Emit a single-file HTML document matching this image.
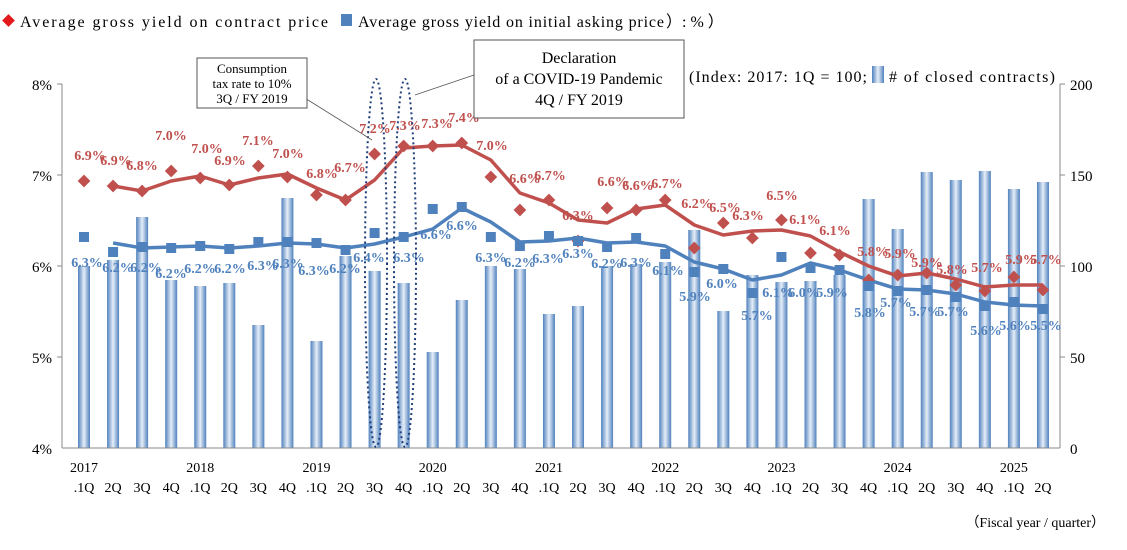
<!DOCTYPE html><html><head><meta charset="utf-8"><style>body{margin:0;background:#fff}svg{display:block;font-family:"Liberation Serif",serif}</style></head><body>
<svg id="s" width="1127" height="550" xmlns="http://www.w3.org/2000/svg">
<defs><linearGradient id="g" x1="0" x2="1"><stop offset="0" stop-color="#4f81bd"/><stop offset="0.5" stop-color="#e6eef8"/><stop offset="1" stop-color="#4f81bd"/></linearGradient></defs>
<g id="bars"></g>
<line x1="62" y1="84" x2="62" y2="448" stroke="#888"/><line x1="1060" y1="84" x2="1060" y2="448" stroke="#888"/>
<line x1="62" y1="448" x2="1060" y2="448" stroke="#888"/>
<g stroke="#888"><line x1="57" y1="84" x2="62" y2="84"/><line x1="57" y1="175" x2="62" y2="175"/><line x1="57" y1="266" x2="62" y2="266"/><line x1="57" y1="357" x2="62" y2="357"/><line x1="1060" y1="84" x2="1065" y2="84"/><line x1="1060" y1="175" x2="1065" y2="175"/><line x1="1060" y1="266" x2="1065" y2="266"/><line x1="1060" y1="357" x2="1065" y2="357"/></g>
<g font-size="15" text-anchor="end"><text x="52" y="90">8%</text><text x="52" y="181">7%</text><text x="52" y="272">6%</text><text x="52" y="363">5%</text><text x="52" y="454">4%</text></g>
<g font-size="15"><text x="1070" y="90">200</text><text x="1070" y="181">150</text><text x="1070" y="272">100</text><text x="1070" y="363">50</text><text x="1070" y="454">0</text></g>
<g id="lines"></g>
<g fill="none" stroke="#1f3d7a" stroke-width="2" stroke-dasharray="2,3"><ellipse cx="376" cy="263" rx="11" ry="184"/><ellipse cx="405" cy="263" rx="11" ry="184"/></g>
<g stroke="#555" stroke-width="0.8"><line x1="300" y1="95" x2="372" y2="140"/><line x1="474" y1="75" x2="415" y2="95"/></g>
<rect x="197" y="58" width="110" height="50" fill="#fff" stroke="#555"/>
<g font-size="13" text-anchor="middle"><text x="252" y="73">Consumption</text><text x="252" y="88">tax rate to 10%</text><text x="252" y="103">3Q / FY 2019</text></g>
<rect x="474" y="40" width="210" height="78" fill="#fff" stroke="#555"/>
<g font-size="16" text-anchor="middle"><text x="579" y="63">Declaration</text><text x="579" y="84">of a COVID-19 Pandemic</text><text x="579" y="105">4Q / FY 2019</text></g>
<text x="689" y="82" font-size="16" textLength="178" lengthAdjust="spacing">(Index: 2017: 1Q = 100;</text>
<rect x="872" y="66" width="12" height="17" fill="url(#g)"/>
<text x="889" y="82" font-size="16" textLength="166" lengthAdjust="spacing"># of closed contracts)</text>
<rect x="4" y="16" width="9" height="9" fill="#e31a1c" transform="rotate(45 8.5 20.5)"/>
<text x="20" y="27" font-size="16" textLength="308" lengthAdjust="spacing">Average gross yield on contract price</text>
<rect x="341" y="14" width="11" height="12" fill="#4f81bd"/>
<text x="358" y="27" font-size="16" textLength="306" lengthAdjust="spacing">Average gross yield on initial asking price</text>
<text x="666" y="27" font-size="16">）: % ）</text>
<g id="xl" font-size="14" text-anchor="middle"></g>
<text x="1105" y="527" font-size="14" text-anchor="end">（Fiscal year / quarter）</text>
</svg>
<script>
var X=i=>84+29.06*i;
var bars=[266,260,217,280,286,283,325,198,341,256,271,283,352,300,266,269,314,306,266,264,262,230,311,275,282,281,275,199,229,172,180,171,189,182];
var rd=[181,186,191,171,178,185,166,177,195,200,154,146,146,143,177,210,200,241,208,210,200,248,223,238,220,253,255,280,275,273,285,291,277,290];
var rl=[null,186,191,181,176,185,178,174,188,200,180,148,146,145,160,193,203,220,223,209,205,225,235,231,230,236,252,266,276,273,279,287,285,285];
var bs=[237,252,247,248,246,249,242,242,243,250,233,237,209,207,237,246,236,241,247,238,254,272,269,293,257,268,270,286,291,290,297,306,302,309];
var bl=[null,243,248,247,246,248,246,243,244,248,244,237,229,208,222,242,241,238,243,242,246,262,269,280,275,263,270,280,289,290,294,302,305,306];
var RL=[[90,160,"6.9"],[116,165,"6.9"],[142,170,"6.8"],[171,140,"7.0"],[207,153,"7.0"],[230,165,"6.9"],[258,145,"7.1"],[288,158,"7.0"],[322,178,"6.8"],[350,172,"6.7"],[375,133,"7.2"],[405,130,"7.3"],[437,128,"7.3"],[464,122,"7.4"],[492,150,"7.0"],[525,183,"6.6"],[550,180,"6.7"],[578,220,"6.3"],[613,186,"6.6"],[638,190,"6.6"],[667,188,"6.7"],[697,208,"6.2"],[725,212,"6.5"],[748,220,"6.3"],[782,200,"6.5"],[805,224,"6.1"],[835,235,"6.1"],[873,256,"5.8"],[900,258,"5.9"],[927,267,"5.9"],[952,274,"5.8"],[987,272,"5.7"],[1021,264,"5.9"],[1046,264,"5.7"]];
var BL=[[87,267,"6.3"],[118,272,"6.2"],[146,272,"6.2"],[171,278,"6.2"],[200,273,"6.2"],[230,273,"6.2"],[263,270,"6.3"],[288,268,"6.3"],[314,275,"6.3"],[345,273,"6.2"],[369,262,"6.4"],[409,262,"6.3"],[436,239,"6.6"],[462,230,"6.6"],[491,262,"6.3"],[520,267,"6.2"],[548,263,"6.3"],[578,258,"6.3"],[607,268,"6.2"],[636,267,"6.3"],[668,275,"6.1"],[695,301,"5.9"],[722,288,"6.0"],[757,320,"5.7"],[778,297,"6.1"],[804,297,"6.0"],[832,297,"5.9"],[870,317,"5.8"],[896,307,"5.7"],[925,316,"5.7"],[953,316,"5.7"],[986,335,"5.6"],[1015,330,"5.6"],[1046,330,"5.5"]];
var h='';bars.forEach((y,i)=>{h+=`<rect x="${X(i)-6}" y="${y}" width="12" height="${448-y}" fill="url(#g)"/>`});
document.getElementById('bars').innerHTML=h;
var p=a=>a.map((y,i)=>y==null?'':`${X(i).toFixed(1)},${y}`).filter(s=>s).join(' ');
h=`<polyline points="${p(rl)}" fill="none" stroke="#c0504d" stroke-width="3.5" stroke-linejoin="round"/><polyline points="${p(bl)}" fill="none" stroke="#4f81bd" stroke-width="3.5" stroke-linejoin="round"/>`;
rd.forEach((y,i)=>{h+=`<rect x="${X(i)-4.5}" y="${y-4.5}" width="9" height="9" fill="#c0504d" transform="rotate(45 ${X(i)} ${y})"/>`});
bs.forEach((y,i)=>{h+=`<rect x="${X(i)-5}" y="${y-5}" width="10" height="10" fill="#4f81bd"/>`});
h+='<g font-size="14" font-weight="bold" text-anchor="middle">';
RL.forEach(l=>h+=`<text x="${l[0]}" y="${l[1]}" fill="#c0504d">${l[2]}%</text>`);
BL.forEach(l=>h+=`<text x="${l[0]}" y="${l[1]}" fill="#4f81bd">${l[2]}%</text>`);
h+='</g>';document.getElementById('lines').innerHTML=h;
var q=['.1Q','2Q','3Q','4Q'];h='';
for(var i=0;i<34;i++){h+=`<text x="${X(i)}" y="492">${q[i%4]}</text>`;if(i%4==0)h+=`<text x="${X(i)}" y="472">${2017+i/4}</text>`;}
document.getElementById('xl').innerHTML=h;
</script>
</body></html>
